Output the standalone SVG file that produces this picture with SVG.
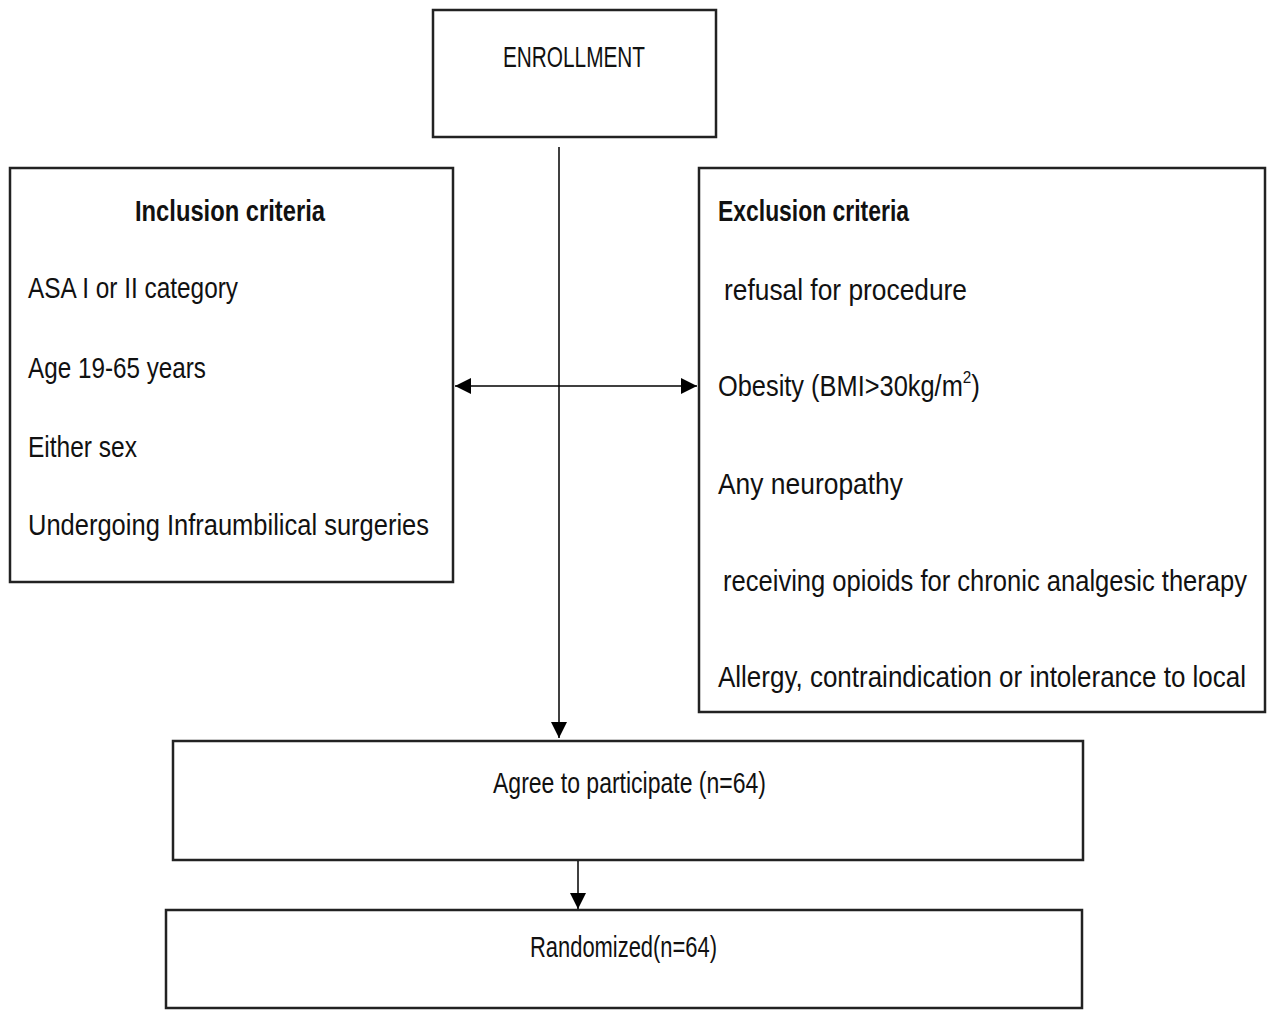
<svg xmlns="http://www.w3.org/2000/svg" width="1268" height="1010" viewBox="0 0 1268 1010">
<style>
.box{fill:#fff;stroke:#222;stroke-width:2.5}
.t{font-family:"Liberation Sans",Arial,sans-serif;font-size:29px;fill:#111}
.b{font-weight:bold}
.c{stroke:#000;stroke-width:1.5;fill:none}
</style>
<defs>
<marker id="ahl" viewBox="0 0 10 10" refX="10" refY="5" markerWidth="16" markerHeight="16" markerUnits="userSpaceOnUse" orient="auto-start-reverse">
<path d="M0,0 L10,5 L0,10 z" fill="#000"/>
</marker>
</defs>
<rect width="1268" height="1010" fill="#fff"/>
<g id="enrollment">
<rect class="box" x="433" y="10" width="283" height="127"/>
<text class="t" x="503" y="67" textLength="142" lengthAdjust="spacingAndGlyphs">ENROLLMENT</text>
</g>
<g id="inclusion">
<rect class="box" x="10" y="168" width="443" height="414"/>
<text class="t b" x="135" y="221" textLength="190" lengthAdjust="spacingAndGlyphs">Inclusion criteria</text>
<text class="t" x="28" y="298" textLength="210" lengthAdjust="spacingAndGlyphs">ASA I or II category</text>
<text class="t" x="28" y="378" textLength="178" lengthAdjust="spacingAndGlyphs">Age 19-65 years</text>
<text class="t" x="28" y="457" textLength="109" lengthAdjust="spacingAndGlyphs">Either sex</text>
<text class="t" transform="translate(28,535) scale(0.92,1)" x="0" y="0" textLength="435.9" lengthAdjust="spacingAndGlyphs">Undergoing Infraumbilical surgeries</text>
</g>
<g id="exclusion">
<rect class="box" x="699" y="168" width="566" height="544"/>
<text class="t b" x="718" y="221" textLength="191" lengthAdjust="spacingAndGlyphs">Exclusion criteria</text>
<text class="t" x="724" y="300" textLength="243" lengthAdjust="spacingAndGlyphs">refusal for procedure</text>
<text class="t" transform="translate(718,396) scale(0.9,1)" x="0" y="0"><tspan textLength="272" lengthAdjust="spacingAndGlyphs">Obesity (BMI&gt;30kg/m</tspan><tspan style="font-size:17px" dy="-13">2</tspan><tspan dy="13">)</tspan></text>
<text class="t" x="718" y="494" textLength="185" lengthAdjust="spacingAndGlyphs">Any neuropathy</text>
<text class="t" transform="translate(723,591) scale(0.88,1)" x="0" y="0" textLength="595.5" lengthAdjust="spacingAndGlyphs">receiving opioids for chronic analgesic therapy</text>
<text class="t" transform="translate(718,687) scale(0.9,1)" x="0" y="0" textLength="586.7" lengthAdjust="spacingAndGlyphs">Allergy, contraindication or intolerance to local</text>
</g>
<g id="agree">
<rect class="box" x="173" y="741" width="910" height="119"/>
<text class="t" x="493" y="793" textLength="273" lengthAdjust="spacingAndGlyphs">Agree to participate  (n=64)</text>
</g>
<g id="randomized">
<rect class="box" x="166" y="910" width="916" height="98"/>
<text class="t" x="530" y="957" textLength="187" lengthAdjust="spacingAndGlyphs">Randomized(n=64)</text>
</g>
<g id="connectors">
<line class="c" x1="559" y1="147" x2="559" y2="738" marker-end="url(#ahl)"/>
<line class="c" x1="455" y1="386" x2="697" y2="386" marker-start="url(#ahl)" marker-end="url(#ahl)"/>
<line class="c" x1="578" y1="861" x2="578" y2="909" marker-end="url(#ahl)"/>
</g>
</svg>
